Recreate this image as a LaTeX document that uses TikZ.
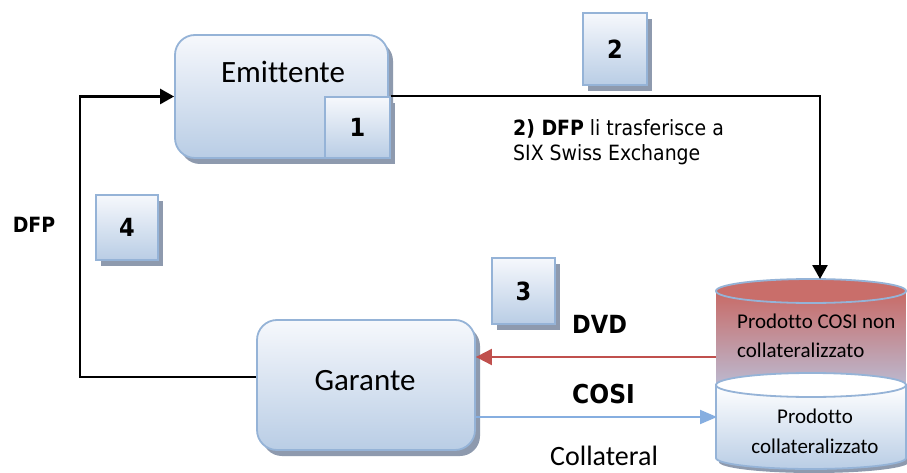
\documentclass[tikz,border=0pt]{standalone}
\usepackage{fontspec}
\setmainfont{Carlito}[Ligatures={NoCommon}]
\newfontfamily\tahfont{DejaVu Sans Condensed}
\usetikzlibrary{arrows.meta,shadows}

\definecolor{boxtop}{HTML}{F6F8FC}
\definecolor{boxbot}{HTML}{B9CDE5}
\definecolor{boxedge}{HTML}{95B3D7}
\definecolor{shadowc}{HTML}{8E9AAE}
\definecolor{redcap}{HTML}{C96E6A}
\definecolor{redbody}{HTML}{C86A66}
\definecolor{lavender}{HTML}{BAC3DD}
\definecolor{redline}{HTML}{C0504D}
\definecolor{blueline}{HTML}{86AEE0}

\tikzset{
  panel/.style={draw=boxedge, line width=1.8pt, top color=boxtop, bottom color=boxbot,
    inner sep=0pt,
    drop shadow={shadow xshift=5pt, shadow yshift=-6pt, fill=shadowc, opacity=1}},
  bigpanel/.style={panel, rounded corners=20pt},
  numpanel/.style={panel, font=\tahfont\bfseries\fontsize{25}{30}\selectfont},
  calib/.style={font=\fontsize{#1}{#1}\selectfont, inner sep=0pt},
  tahreg/.style={font=\tahfont\fontsize{21}{24}\selectfont, inner sep=0pt},
  tahbold/.style={font=\tahfont\bfseries\fontsize{#1}{#1}\selectfont, inner sep=0pt},
  flow/.style={line width=2.6pt, -{Triangle[length=14pt,width=15pt]}},
  redflow/.style={draw=redline, line width=2pt, -{Triangle[length=16pt,width=16pt]}},
  blueflow/.style={draw=blueline, line width=2pt, -{Triangle[length=17pt,width=14pt]}},
}

\begin{document}
\begin{tikzpicture}[x=1pt,y=-1pt]
  \useasboundingbox[fill=white] (0,0) rectangle (907,473);

  % issuer box with step 1 marker
  \node[bigpanel, minimum width=213pt, minimum height=123pt] (emit) at (281.5,96.5) {};
  \node[calib=31, anchor=base] (emitlbl) at (283,83) {Emittente};
  \node[numpanel, minimum width=65pt, minimum height=61pt] (s1) at (357.5,127.5) {1};

  % other step markers
  \node[numpanel, minimum width=64pt, minimum height=72pt] (s2) at (615,49) {2};
  \node[numpanel, minimum width=62pt, minimum height=65pt] (s4) at (127,227.5) {4};
  \node[numpanel, minimum width=63pt, minimum height=66pt] (s3) at (523.5,291) {3};

  % guarantor box
  \node[bigpanel, minimum width=218pt, minimum height=130pt] (gar) at (366,385) {};
  \node[calib=31, anchor=base] (garlbl) at (365,390) {Garante};

  % product store: two stacked cylinders
  \fill[shadowc] (719,392) -- (719,462) arc[start angle=180, end angle=0, x radius=95, y radius=11] -- (909,392) -- cycle;
  \path[top color=redbody, bottom color=lavender] (716,291) -- (716,385)
    arc[start angle=180, end angle=0, x radius=95, y radius=12] -- (906,291) -- cycle;
  \path[draw=boxedge, line width=1.8pt, top color=white, bottom color=boxbot] (716,385) -- (716,458)
    arc[start angle=180, end angle=0, x radius=95, y radius=11] -- (906,385) -- cycle;
  \path[draw=boxedge, line width=1.8pt, fill=white] (811,385) ellipse[x radius=95, y radius=12];
  \path[draw=boxedge, line width=1.8pt, fill=redcap] (811,291) ellipse[x radius=95, y radius=12];
  \coordinate (cyltop) at (820,279);
  \coordinate (cylred) at (716,357);
  \coordinate (cylblue) at (717,417);

  \node[calib=21, anchor=base west] (p1a) at (737,328) {Prodotto COSI non};
  \node[calib=21, anchor=base west] (p1b) at (737,357) {collateralizzato};
  \node[calib=21, anchor=base] (p2a) at (815,423) {Prodotto};
  \node[calib=21, anchor=base] (p2b) at (815,453) {collateralizzato};

  % connectors
  \draw[flow] (s1.north east) -| (cyltop);
  \draw[flow] ([yshift=8pt]gar.west) -- ++(-176,0) |- (emit.west);
  \draw[redflow] (cylred) -- (cylred -| gar.east);
  \draw[blueflow] (gar.east |- cylblue) -- (cylblue);

  % labels
  \node[tahreg, anchor=base west] (t2a) at (513,136) {\textbf{2) DFP} li trasferisce a};
  \node[tahreg, anchor=base west] (t2b) at (513,161) {SIX Swiss Exchange};
  \node[tahbold=21] (dfp) at (34,225) {DFP};
  \node[tahbold=25, anchor=base west] (dvd) at (572,333) {DVD};
  \node[tahbold=26, anchor=base west] (cosi) at (572,403) {COSI};
  \node[calib=28, anchor=base west] (coll) at (550,465) {Collateral};
\end{tikzpicture}
\end{document}
